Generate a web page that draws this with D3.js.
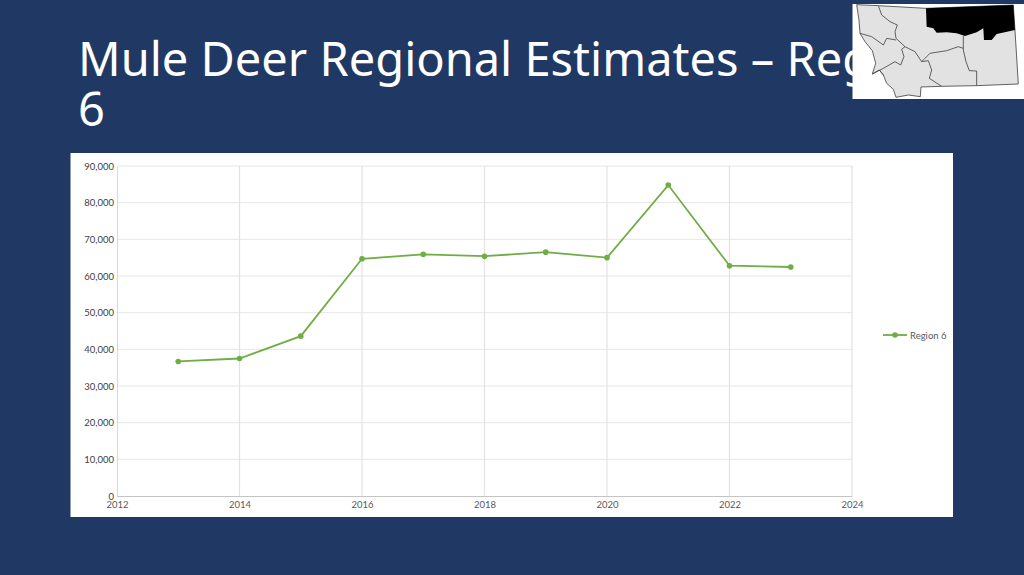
<!DOCTYPE html>
<html>
<head>
<meta charset="utf-8">
<script src="https://cdn.jsdelivr.net/npm/d3@7"></script>
<style>
  html, body { margin: 0; padding: 0; background: #1f3864; overflow: hidden; }
  text { font-family: Lato, sans-serif; }
</style>
</head>
<body>
<svg id="slide" width="1024" height="575"></svg>
<script>
const years = [2013, 2014, 2015, 2016, 2017, 2018, 2019, 2020, 2021, 2022, 2023];
const region6 = [36700, 37500, 43600, 64700, 65900, 65400, 66500, 65000, 84800, 62800, 62450];
const seriesName = "Region 6";
const xTicks = [2012, 2014, 2016, 2018, 2020, 2022, 2024];
const yTicks = [0, 10000, 20000, 30000, 40000, 50000, 60000, 70000, 80000, 90000];
const titleLines = ["Mule Deer Regional Estimates \u2013 Region", "6"];

// locator map outlines (zoomed crop coords)
const stateOutline = [[50,14],[115,17],[258,25],[520,15],[525,90],[535,252],[410,257],[305,259],[243,261],[241,290],[205,285],[168,292],[160,268],[140,250],[130,225],[118,210],[97,222],[107,190],[97,152],[75,125],[60,100],[57,60]];
const regionBlack = [[258,25],[520,15],[525,90],[470,102],[455,120],[432,120],[430,85],[410,97],[375,108],[350,100],[320,97],[290,98],[280,85],[260,80]];
const regionLines = [
  [[115,17],[125,45],[150,65],[172,75],[165,95],[168,115],[195,140],[225,155],[245,185],[270,160],[320,152],[355,140],[370,145]],
  [[60,100],[95,110],[130,135],[140,115],[168,120]],
  [[370,108],[370,150],[378,185],[388,212],[410,213],[410,257]],
  [[245,185],[265,182],[275,210],[268,235],[305,259]],
  [[97,222],[130,205],[165,185],[182,195],[192,170],[185,148],[195,140]],
  [[130,225],[118,210]]
];

const svg = d3.select("#slide");

// title sits under the map, same as the slide
svg.selectAll("text.title")
  .data(titleLines)
  .enter().append("text")
  .attr("class", "title")
  .attr("x", 78)
  .attr("y", (d, i) => 76 + i * 50)
  .attr("fill", "#fff")
  .style("font-family", "'Noto Sans', sans-serif")
  .style("font-size", "47px")
  .text(d => d);

// chart panel
svg.append("rect")
  .attr("x", 70.5).attr("y", 153)
  .attr("width", 882.5).attr("height", 364)
  .attr("fill", "#fff");

const x = d3.scaleLinear().domain([2012, 2024]).range([117, 852]);
const y = d3.scaleLinear().domain([0, 90000]).range([496, 166]);

const grid = svg.append("g");
grid.selectAll("line.h")
  .data(yTicks.slice(1))
  .enter().append("line")
  .attr("class", "h")
  .attr("x1", x(2012)).attr("x2", x(2024))
  .attr("y1", d => y(d)).attr("y2", d => y(d))
  .attr("stroke", "#e6e6e6")
  .attr("stroke-width", 1);
grid.selectAll("line.v")
  .data(xTicks.slice(1))
  .enter().append("line")
  .attr("class", "v")
  .attr("x1", d => x(d)).attr("x2", d => x(d))
  .attr("y1", y(90000)).attr("y2", y(0))
  .attr("stroke", "#e2e2e2")
  .attr("stroke-width", 1.2);

const yAxis = d3.axisLeft(y).tickValues(yTicks).tickSize(0).tickPadding(3).tickFormat(d3.format(","));
const xAxis = d3.axisBottom(x).tickValues(xTicks).tickSize(0).tickPadding(5).tickFormat(d3.format("d"));

const gy = svg.append("g").attr("transform", `translate(${x(2012)},0)`).call(yAxis);
gy.select(".domain").attr("stroke", "#d9d9d9");
gy.selectAll("text").attr("fill", "#404040").style("font-size", "9.5px");

const gx = svg.append("g").attr("transform", `translate(0,${y(0)})`).call(xAxis);
gx.select(".domain").attr("stroke", "#c4c4c4");
gx.selectAll("text").attr("fill", "#595959").style("font-size", "9.5px");

// series
const line = d3.line().x((d, i) => x(years[i])).y(d => y(d));
svg.append("path")
  .datum(region6)
  .attr("d", line)
  .attr("fill", "none")
  .attr("stroke", "#70ad47")
  .attr("stroke-width", 1.8);
svg.selectAll("circle.pt")
  .data(region6)
  .enter().append("circle")
  .attr("class", "pt")
  .attr("cx", (d, i) => x(years[i]))
  .attr("cy", d => y(d))
  .attr("r", 2.8)
  .attr("fill", "#70ad47");

// legend
const legend = svg.append("g").attr("transform", "translate(883,335)");
legend.append("line").attr("x1", 0).attr("x2", 24).attr("stroke", "#70ad47").attr("stroke-width", 1.8);
legend.append("circle").attr("cx", 12).attr("r", 2.8).attr("fill", "#70ad47");
legend.append("text").attr("x", 27).attr("y", 3.5).attr("fill", "#595959").style("font-size", "9.5px").text(seriesName);

// locator map
svg.append("rect").attr("x", 852.5).attr("y", 4).attr("width", 171.5).attr("height", 95).attr("fill", "#fff");
const map = svg.append("g").attr("transform", "translate(840,0) scale(0.3333)");
const poly = d3.line().curve(d3.curveLinear);
map.append("path").attr("d", poly(stateOutline) + "Z").attr("fill", "#e2e2e2").attr("stroke", "#444").attr("stroke-width", 2.5);
map.append("path").attr("d", poly(regionBlack) + "Z").attr("fill", "#000");
map.selectAll("path.rl")
  .data(regionLines)
  .enter().append("path")
  .attr("class", "rl")
  .attr("d", poly)
  .attr("fill", "none")
  .attr("stroke", "#444")
  .attr("stroke-width", 2.5);
</script>
</body>
</html>
